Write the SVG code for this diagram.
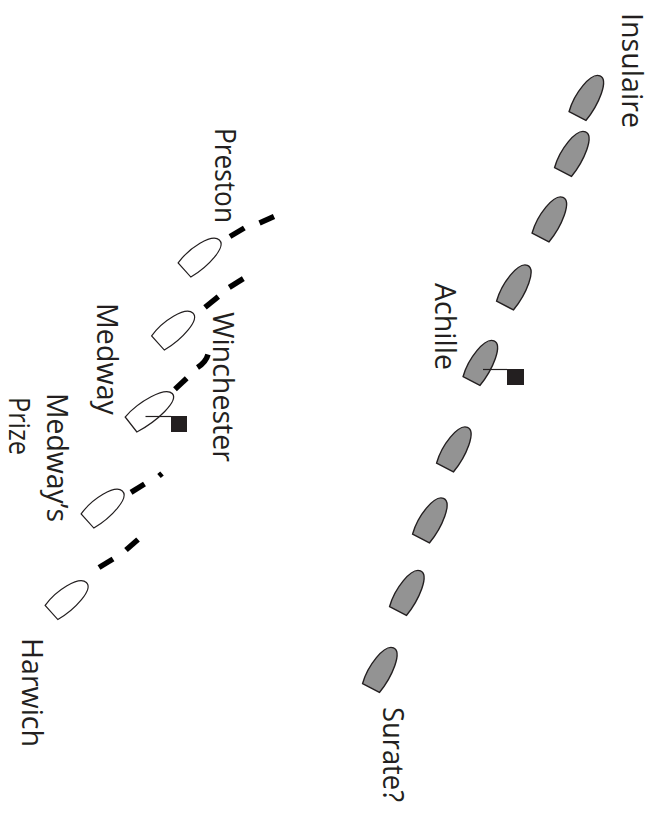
<svg xmlns="http://www.w3.org/2000/svg" width="653" height="825" viewBox="0 0 653 825">
<style>
.lbl{font-family:"Open Sans","Noto Sans",sans-serif;font-size:30px;fill:#231f20}
.fr{fill:#939393;stroke:#231f20;stroke-width:1.4}
.br{fill:#fff;stroke:#231f20;stroke-width:1.2}
.dash{fill:none;stroke:#000;stroke-width:5.5}
.flag{stroke:#231f20;stroke-width:1.2}
.sq{fill:#231f20}
</style>
<defs>
<path id="hull" d="M-9.5,0 C-13.5,-18 -9,-45 1,-46 C11,-47 13.5,-20 9.5,0 Z"/>
</defs>
<rect width="653" height="825" fill="#fff"/>
<g id="connectors">
<path class="dash" d="M274,216.5 L259.5,223"/>
<path class="dash" d="M244.3,228 L230,236.5"/>
<path class="dash" d="M243.3,278.7 L229.3,287.3"/>
<path class="dash" d="M218.3,296.7 L205,307.3"/>
<path class="dash" d="M208,354.5 Q206,362 197.5,367.5"/>
<path class="dash" d="M186.7,378.3 L175,389.3"/>
<path class="dash" d="M162,473.5 L159,476"/>
<path class="dash" d="M144.5,484 L131,492.3"/>
<path class="dash" d="M138,539.5 L126,550"/>
<path class="dash" d="M113,559 L99,567.5"/>
</g>
<g id="insulaire">
<use href="#hull" class="fr" transform="translate(577.5,116) rotate(28)"/>
<text class="lbl" transform="translate(622,13) rotate(90)" textLength="115" lengthAdjust="spacingAndGlyphs">Insulaire</text>
</g>
<g id="french2"><use href="#hull" class="fr" transform="translate(563,172) rotate(28)"/></g>
<g id="french3"><use href="#hull" class="fr" transform="translate(540.5,237.5) rotate(28)"/></g>
<g id="french4"><use href="#hull" class="fr" transform="translate(505,305.5) rotate(28)"/></g>
<g id="achille">
<use href="#hull" class="fr" transform="translate(471.5,381) rotate(28)"/>
<line class="flag" x1="483" y1="369.5" x2="507" y2="369.5"/>
<rect class="sq" x="507" y="369" width="17" height="16"/>
<text class="lbl" transform="translate(435,283) rotate(90)" textLength="87" lengthAdjust="spacingAndGlyphs">Achille</text>
</g>
<g id="french6"><use href="#hull" class="fr" transform="translate(445,467.5) rotate(28)"/></g>
<g id="french7"><use href="#hull" class="fr" transform="translate(421,538.5) rotate(28)"/></g>
<g id="french8"><use href="#hull" class="fr" transform="translate(398,611) rotate(28)"/></g>
<g id="surate">
<use href="#hull" class="fr" transform="translate(371,688) rotate(28)"/>
<text class="lbl" transform="translate(383,707) rotate(90)" textLength="95" lengthAdjust="spacingAndGlyphs">Surate?</text>
</g>
<g id="preston">
<use href="#hull" class="br" transform="translate(184.5,270) rotate(48)"/>
<text class="lbl" transform="translate(215,128) rotate(90)" textLength="95" lengthAdjust="spacingAndGlyphs">Preston</text>
</g>
<g id="winchester">
<use href="#hull" class="br" transform="translate(158,343) rotate(48)"/>
<text class="lbl" transform="translate(213,312) rotate(90)" textLength="150" lengthAdjust="spacingAndGlyphs">Winchester</text>
</g>
<g id="medway">
<use href="#hull" class="br" transform="translate(131,424.5) rotate(52) scale(1,1.12)"/>
<line class="flag" x1="145.5" y1="416.5" x2="171" y2="416.5"/>
<rect class="sq" x="171" y="416" width="16" height="16"/>
<text class="lbl" transform="translate(97,303) rotate(90)" textLength="112" lengthAdjust="spacingAndGlyphs">Medway</text>
</g>
<g id="medways-prize">
<use href="#hull" class="br" transform="translate(87.5,521) rotate(48)"/>
<text class="lbl" transform="translate(47,393) rotate(90)" textLength="129" lengthAdjust="spacingAndGlyphs">Medway’s</text>
<text class="lbl" transform="translate(8.5,397) rotate(90)" textLength="58" lengthAdjust="spacingAndGlyphs">Prize</text>
</g>
<g id="harwich">
<use href="#hull" class="br" transform="translate(51.5,612.5) rotate(48)"/>
<text class="lbl" transform="translate(22,638) rotate(90)" textLength="109" lengthAdjust="spacingAndGlyphs">Harwich</text>
</g>
</svg>
